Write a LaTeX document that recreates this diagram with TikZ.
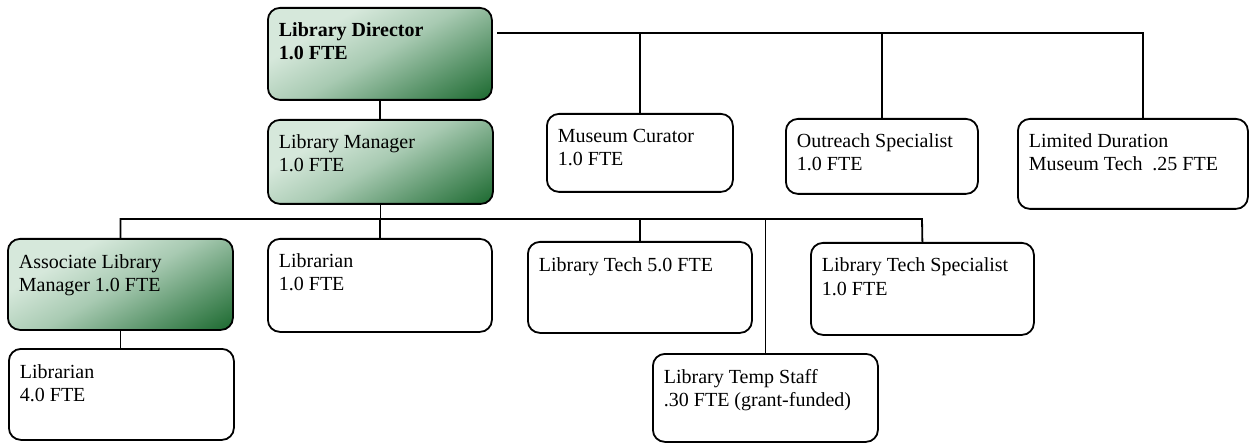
\documentclass[tikz,border=0pt]{standalone}
\usepackage{fontspec}
\setmainfont{Liberation Serif}
\definecolor{paleGreen}{RGB}{214,232,219}
\definecolor{softGreen}{RGB}{168,202,178}
\definecolor{midGreen}{RGB}{92,150,108}
\definecolor{deepGreen}{RGB}{20,100,40}
% fade for the lead boxes, dark at the bottom
\pgfdeclareverticalshading{leafFade}{100bp}{color(0bp)=(deepGreen); color(14bp)=(deepGreen);
  color(32bp)=(midGreen); color(50bp)=(softGreen); color(68bp)=(paleGreen); color(100bp)=(paleGreen)}
% box text: full box width and height in pt, then the lines
\newcommand{\staffText}[3]{\parbox[c][\dimexpr#2pt-26pt\relax][t]{\dimexpr#1pt-22pt\relax}{\raggedright\strut#3}}
\tikzset{
  staffBox/.style={draw, line width=1.8pt, rounded corners=12pt, anchor=north west,
    inner xsep=11pt, inner ysep=13pt, fill=white},
  leadBox/.style={staffBox, shade, shading=leafFade, shading angle=30},
  orgLine/.style={line width=1.8pt}
}

\begin{document}
\begin{tikzpicture}[x=1pt, y=-1pt, font=\fontsize{20}{23}\selectfont]
  \useasboundingbox (0,0) rectangle (1249,443);

  \node[leadBox] (director) at (267,7) {\staffText{224}{92}{\textbf{Library Director}\\\textbf{1.0 FTE}}};
  \node[leadBox] (manager) at (267,119) {\staffText{225}{84}{Library Manager\\1.0 FTE}};
  \node[staffBox] (curator) at (546,113) {\staffText{186}{78}{Museum Curator\\1.0 FTE}};
  \node[staffBox] (outreach) at (785,118) {\staffText{192}{75}{Outreach Specialist\\1.0 FTE}};
  \node[staffBox] (limited) at (1017,118) {\staffText{230}{90}{Limited Duration\\Museum Tech\ \ .25 FTE}};

  \node[leadBox] (associate) at (7,238) {\staffText{225}{91}{Associate Library\\Manager 1.0 FTE}};
  \node[staffBox] (libFour) at (8,348) {\staffText{225}{91}{Librarian\\4.0 FTE}};
  \node[staffBox] (libOne) at (267,238) {\staffText{224}{93}{Librarian\\1.0 FTE}};
  \node[staffBox] (techFive) at (527,241) {\staffText{224}{91}{Library Tech 5.0 FTE}};
  \node[staffBox] (specialist) at (810,242) {\staffText{223}{92}{Library Tech Specialist\\1.0 FTE}};
  \node[staffBox] (tempStaff) at (652,353) {\staffText{225}{88}{Library Temp Staff\\.30 FTE (grant-funded)}};

  % director line across the top
  \coordinate (topStart) at (497,33);
  \coordinate (topEnd) at (1143,33);
  \draw[orgLine] (topStart) -- (topEnd) -- (topEnd |- limited.north);
  \draw[orgLine] (curator.north) -- (curator.north |- topStart);
  \draw[orgLine] (outreach.north) -- (outreach.north |- topStart);
  \draw[orgLine] (director.south) -- (director.south |- manager.north);

  % manager line
  \coordinate (busRight) at (922,219);
  \draw[orgLine] (manager.south) -- (manager.south |- busRight);
  \draw[orgLine] (associate.north) |- (busRight) -- (specialist.north);
  \draw[orgLine] (libOne.north) -- (libOne.north |- busRight);
  \draw[orgLine] (techFive.north) -- (techFive.north |- busRight);
  \draw[orgLine] (tempStaff.north) -- (tempStaff.north |- busRight);
  \draw[orgLine] (associate.south) -- (associate.south |- libFour.north);
\end{tikzpicture}
\end{document}
